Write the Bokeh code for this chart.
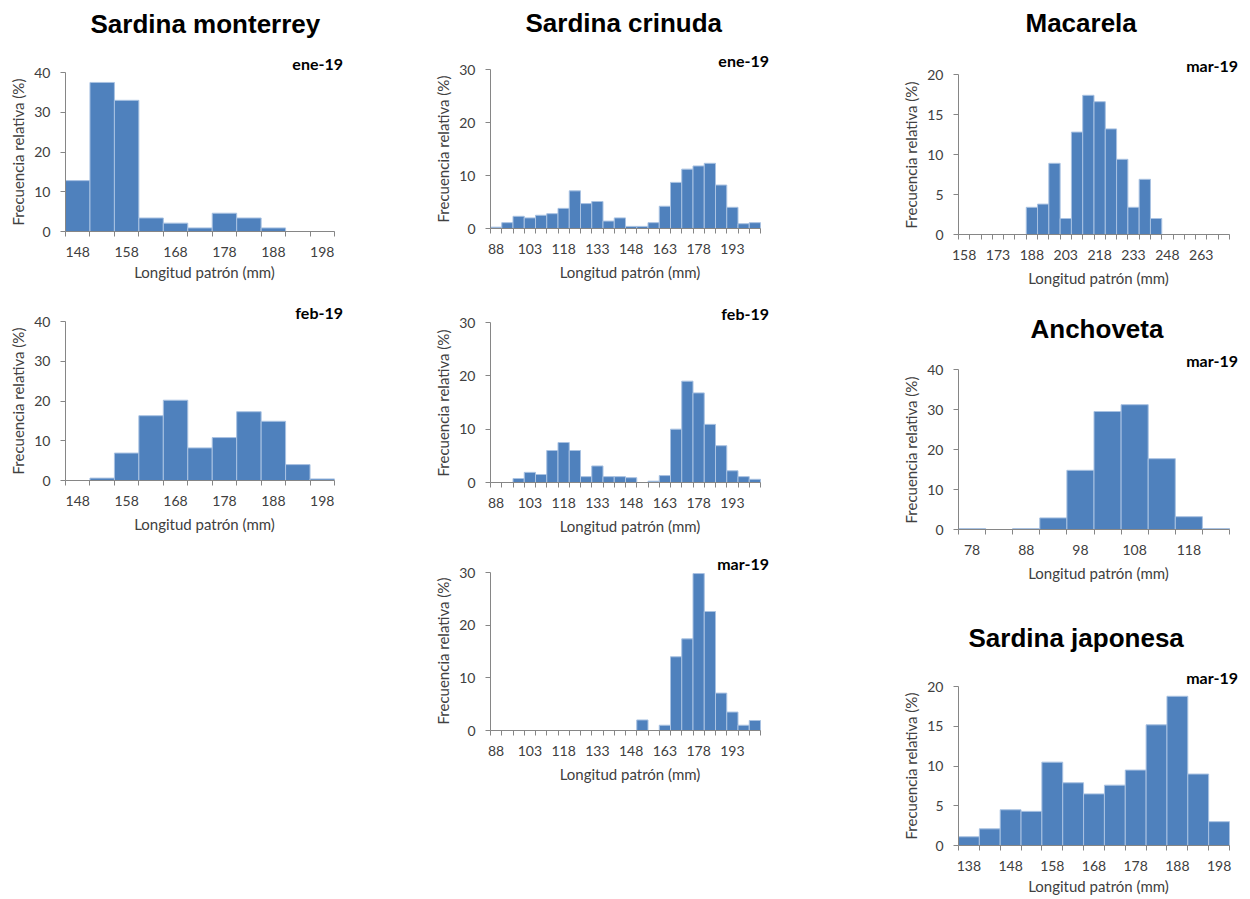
from bokeh.plotting import figure
from bokeh.models import Range1d, FixedTicker, Label, Title
from bokeh.layouts import row, column
from bokeh.embed import file_html
from bokeh.resources import INLINE

# ---------------- data ----------------
mont_len = [148, 153, 158, 163, 168, 173, 178, 183, 188, 193, 198]
mont_ene = [12.8, 37.5, 33.0, 3.4, 2.1, 0.9, 4.6, 3.4, 0.9, 0, 0]
mont_feb = [0, 0.6, 6.9, 16.3, 20.2, 8.2, 10.8, 17.3, 14.9, 4.0, 0.4]
mont_ticks = [148, 158, 168, 178, 188, 198]
mont_yticks = [0, 10, 20, 30, 40]

crin_len = [88, 93, 98, 103, 108, 113, 118, 123, 128, 133, 138, 143,
            148, 153, 158, 163, 168, 173, 178, 183, 188, 193, 198, 203]
crin_ene = [0.25, 1.1, 2.3, 2.0, 2.5, 2.8, 3.8, 7.1, 4.7, 5.1, 1.4, 2.0,
            0.4, 0.4, 1.1, 4.2, 8.7, 11.2, 11.8, 12.3, 8.2, 4.0, 0.9, 1.1]
crin_feb = [0, 0, 0.75, 1.9, 1.5, 6.0, 7.5, 6.0, 1.1, 3.1, 1.1, 1.1,
            0.9, 0, 0.25, 1.3, 10.0, 19.0, 16.8, 10.9, 6.9, 2.2, 1.1, 0.6]
crin_mar = [0, 0, 0, 0, 0, 0, 0, 0, 0, 0, 0, 0,
            0, 2.0, 0, 1.0, 14.0, 17.4, 29.8, 22.6, 7.1, 3.5, 1.0, 1.9]
crin_ticks = [88, 103, 118, 133, 148, 163, 178, 193]
crin_yticks = [0, 10, 20, 30]

mac_len = [158, 163, 168, 173, 178, 183, 188, 193, 198, 203, 208, 213,
           218, 223, 228, 233, 238, 243, 248, 253, 258, 263, 268, 273]
mac_mar = [0, 0, 0, 0, 0, 0, 3.4, 3.8, 8.9, 2.0, 12.8, 17.4,
           16.6, 13.2, 9.4, 3.4, 6.9, 2.0, 0, 0, 0, 0, 0, 0]
mac_ticks = [158, 173, 188, 203, 218, 233, 248, 263]
mac_yticks = [0, 5, 10, 15, 20]

anc_len = [78, 83, 88, 93, 98, 103, 108, 113, 118, 123]
anc_mar = [0.25, 0, 0.25, 2.9, 14.8, 29.5, 31.2, 17.7, 3.2, 0.25]
anc_ticks = [78, 88, 98, 108, 118]
anc_yticks = [0, 10, 20, 30, 40]

jap_len = [138, 143, 148, 153, 158, 163, 168, 173, 178, 183, 188, 193, 198]
jap_mar = [1.1, 2.1, 4.5, 4.3, 10.5, 7.9, 6.5, 7.6, 9.5, 15.2, 18.8, 9.0, 3.0]
jap_ticks = [138, 148, 158, 168, 178, 188, 198]
jap_yticks = [0, 5, 10, 15, 20]

XLABEL = "Longitud patrón (mm)"
YLABEL = "Frecuencia relativa (%)"

# ---------------- style ----------------
FILL = "#4F81BD"
EDGE = "#A9C2E2"
AXIS = "#868686"
TXT = "#404040"
FONT = "Lato"
TFONT = "Liberation Sans"
EXT = 9   # extra frame width on the right so the month label is not clipped


def panel(lengths, values, ticks, yticks, month, fig_w, left, plot_w,
          plot_top, plot_h, bottom, xlab_standoff=6):
    """Excel-like category histogram. The frame is extended upwards (and a
    little to the right) so that the titles drawn as labels are not clipped;
    the axes are bounded to the real plotting area."""
    fig_h = plot_top + plot_h + bottom
    frame_w = plot_w + EXT
    right = fig_w - left - frame_w
    frame_h = plot_top + plot_h
    step = lengths[1] - lengths[0]
    x0 = lengths[0] - step / 2
    x1 = lengths[-1] + step / 2
    ymax = yticks[-1]
    x_end = x0 + (x1 - x0) * frame_w / plot_w
    y_end = ymax * frame_h / plot_h

    p = figure(width=fig_w, height=fig_h, output_backend="svg",
               toolbar_location=None,
               x_range=Range1d(x0, x_end), y_range=Range1d(0, y_end),
               min_border_left=left, min_border_right=right,
               min_border_top=0, min_border_bottom=bottom)
    p.outline_line_color = None
    p.background_fill_color = "white"
    p.border_fill_color = "white"
    p.xgrid.visible = False
    p.ygrid.visible = False

    p.vbar(x=lengths, top=values, width=step, fill_color=FILL,
           line_color=EDGE, line_width=1)

    bounds = [c - step / 2 for c in lengths] + [x1]
    xa = p.xaxis[0]
    xa.bounds = (x0, x1)
    xa.ticker = FixedTicker(ticks=ticks, minor_ticks=bounds)
    xa.major_tick_out = 0
    xa.major_tick_in = 0
    xa.major_tick_line_color = None
    xa.minor_tick_out = 5
    xa.minor_tick_in = 0
    xa.minor_tick_line_color = AXIS
    xa.axis_line_color = AXIS
    xa.major_label_standoff = 10
    xa.major_label_text_font = FONT
    xa.major_label_text_font_size = "14px"
    xa.major_label_text_color = TXT
    xa.axis_label = XLABEL
    xa.axis_label_text_font = FONT
    xa.axis_label_text_font_size = "15px"
    xa.axis_label_text_font_style = "normal"
    xa.axis_label_text_color = TXT
    xa.axis_label_standoff = xlab_standoff

    ya = p.yaxis[0]
    ya.bounds = (0, ymax)
    ya.ticker = FixedTicker(ticks=yticks, minor_ticks=[])
    ya.major_tick_out = 5
    ya.major_tick_in = 0
    ya.major_tick_line_color = AXIS
    ya.minor_tick_out = 0
    ya.minor_tick_in = 0
    ya.axis_line_color = AXIS
    ya.major_label_standoff = 10
    ya.major_label_text_font = FONT
    ya.major_label_text_font_size = "14px"
    ya.major_label_text_color = TXT
    ya.axis_label = None

    # y-axis title, placed from the bottom of the plotting area
    p.add_layout(Title(text=YLABEL, align="left", offset=6, standoff=10,
                       text_font=FONT, text_font_size="15px",
                       text_font_style="normal", text_color=TXT), "left")

    p.add_layout(Label(x=x1, y=ymax, text=month, x_offset=8.5, y_offset=9.5,
                       text_align="right", text_baseline="alphabetic",
                       text_font=FONT, text_font_style="bold",
                       text_font_size="16px", text_color="black"))
    return p


def species_title(p, text, x_off, y_off, ymax):
    p.add_layout(Label(x=p.x_range.start, y=ymax, text=text,
                       x_offset=x_off, y_offset=y_off,
                       text_align="left", text_baseline="alphabetic",
                       text_font=TFONT, text_font_style="bold",
                       text_font_size="26px", text_color="black"))


# column 1
W1 = 425
pA = panel(mont_len, mont_ene, mont_ticks, mont_yticks, "ene-19", W1, 65, 269, 72, 159, 60,
           xlab_standoff=3)
species_title(pA, "Sardina monterrey", 25, 49, mont_yticks[-1])
pB = panel(mont_len, mont_feb, mont_ticks, mont_yticks, "feb-19", W1, 65, 269, 30, 159, 60)

# column 2
W2 = 468
pC = panel(crin_len, crin_ene, crin_ticks, crin_yticks, "ene-19", W2, 65, 270, 69, 159, 60)
species_title(pC, "Sardina crinuda", 35, 47, crin_yticks[-1])
pD = panel(crin_len, crin_feb, crin_ticks, crin_yticks, "feb-19", W2, 65, 270, 34, 160, 60)
pE = panel(crin_len, crin_mar, crin_ticks, crin_yticks, "mar-19", W2, 65, 270, 30, 158, 60)

# column 3
W3 = 352
pF = panel(mac_len, mac_mar, mac_ticks, mac_yticks, "mar-19", W3, 65, 271, 74, 160, 60)
species_title(pF, "Macarela", 67, 52, mac_yticks[-1])
pG = panel(anc_len, anc_mar, anc_ticks, anc_yticks, "mar-19", W3, 65, 271, 75, 160, 60)
species_title(pG, "Anchoveta", 72, 41, anc_yticks[-1])
pH = panel(jap_len, jap_mar, jap_ticks, jap_yticks, "mar-19", W3, 65, 271, 98, 160, 50,
           xlab_standoff=3)
species_title(pH, "Sardina japonesa", 10, 49, jap_yticks[-1])

layout = row(column(pA, pB), column(pC, pD, pE), column(pF, pG, pH))

open("out.html", "w").write(file_html(layout, INLINE))
